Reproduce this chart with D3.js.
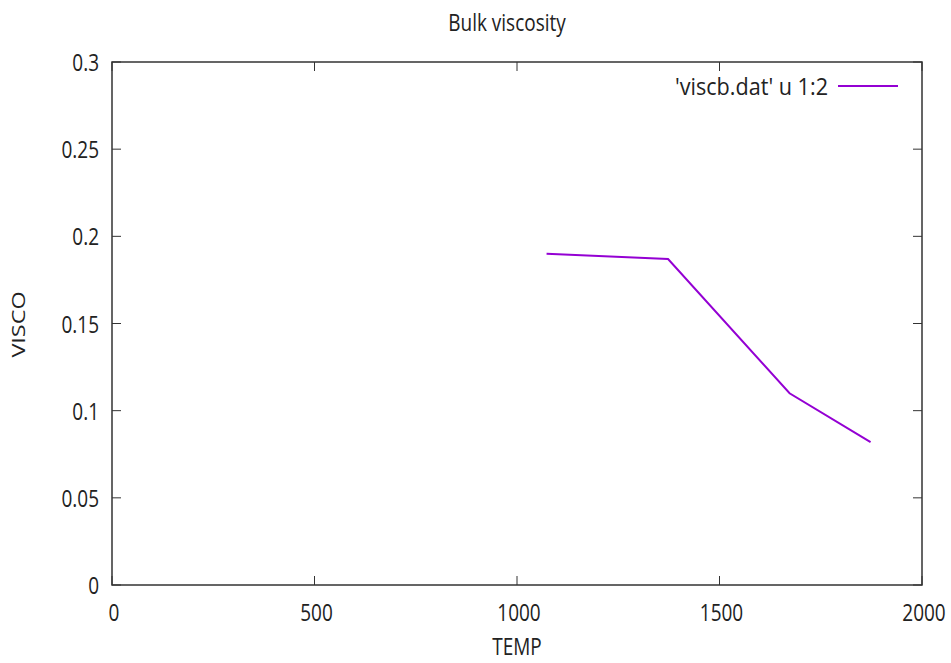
<!DOCTYPE html>
<html><head><meta charset="utf-8">
<script src="https://cdn.jsdelivr.net/npm/d3@7"></script>
<style>body{margin:0;background:#fff}text{font-family:"Open Sans","Noto Sans",sans-serif;fill:#222}</style>
</head><body><svg id="c" width="951" height="663"></svg>
<script>
const temps = [1073, 1373, 1673, 1873];
const visco = [0.19, 0.187, 0.11, 0.082];
const xTicks = [0, 500, 1000, 1500, 2000];
const yTicks = [0, 0.05, 0.1, 0.15, 0.2, 0.25, 0.3];
const title = "Bulk viscosity", xLabel = "TEMP", yLabel = "VISCO", legendLabel = "'viscb.dat' u 1:2";

const svg = d3.select("#c");
const L = 112, R = 922, T = 62, B = 585;
const x = d3.scaleLinear().domain([0, 2000]).range([L, R]);
const y = d3.scaleLinear().domain([0, 0.3]).range([B, T]);
const tl = 9, FS = 19, SY = 1.2;
const g = svg.append("g");
function htext(px, py, anchor, str, size) {
  return g.append("text").attr("transform", `translate(${px},${py}) scale(1,${SY})`)
    .attr("text-anchor", anchor).attr("font-size", size || FS).text(str);
}
xTicks.forEach(v => {
  g.append("line").attr("x1", x(v)).attr("x2", x(v)).attr("y1", B).attr("y2", B - tl).attr("stroke", "#333");
  g.append("line").attr("x1", x(v)).attr("x2", x(v)).attr("y1", T).attr("y2", T + tl).attr("stroke", "#333");
  htext(x(v) + 2, 621, "middle", v);
});
yTicks.forEach(v => {
  g.append("line").attr("x1", L).attr("x2", L + tl).attr("y1", y(v)).attr("y2", y(v)).attr("stroke", "#333");
  g.append("line").attr("x1", R).attr("x2", R - tl).attr("y1", y(v)).attr("y2", y(v)).attr("stroke", "#333");
  htext(99, y(v) + 9, "end", v);
});
g.append("rect").attr("x", L).attr("y", T).attr("width", R - L).attr("height", B - T).attr("fill", "none").attr("stroke", "#333").attr("stroke-width", 1.5);
const line = d3.line().x((d, i) => x(temps[i])).y(d => y(d));
g.append("path").datum(visco).attr("d", line).attr("fill", "none").attr("stroke", "#9400d3").attr("stroke-width", 2);
htext(828, 95, "end", legendLabel).attr("textLength", 153).attr("lengthAdjust", "spacingAndGlyphs");
g.append("line").attr("x1", 838).attr("x2", 898).attr("y1", 86).attr("y2", 86).attr("stroke", "#9400d3").attr("stroke-width", 2);
htext(507, 31, "middle", title);
htext(517, 655, "middle", xLabel);
g.append("text").attr("transform", "translate(25,324.5) rotate(-90) scale(1.3,1)").attr("text-anchor", "middle").attr("font-size", 18).text(yLabel);
</script></body></html>
